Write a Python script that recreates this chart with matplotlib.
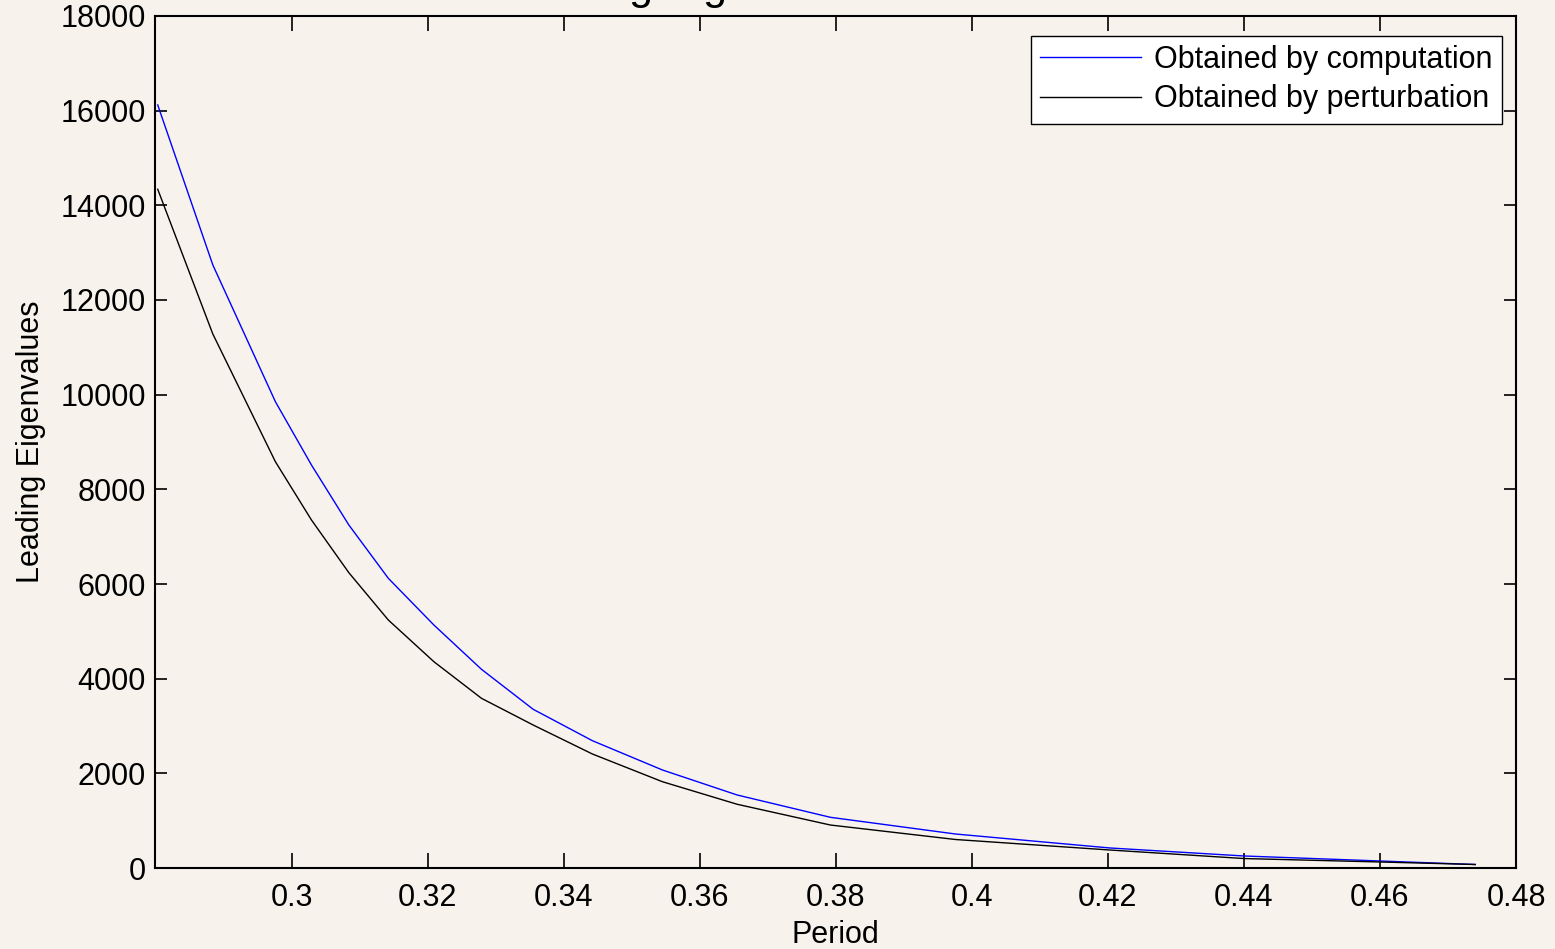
import matplotlib
matplotlib.use("Agg")
import matplotlib.pyplot as plt
import numpy as np

# Period values (shared by both curves)
period = [0.2803, 0.2884, 0.2976, 0.3029, 0.3084, 0.3142, 0.3209, 0.3279,
          0.3355, 0.3442, 0.3545, 0.3655, 0.3792, 0.3976, 0.4203, 0.4400,
          0.4600, 0.4740]

# Leading eigenvalues obtained by computation
computed = [16121, 12741, 9852, 8515, 7247, 6121, 5134, 4198, 3353, 2690,
            2071, 1542, 1071, 718, 423, 254, 148, 74]

# Leading eigenvalues obtained by perturbation
perturbed = [14340, 11282, 8584, 7353, 6239, 5240, 4359, 3585, 3021, 2409,
             1823, 1346, 908, 602, 380, 200, 127, 74]

xticks = [0.3, 0.32, 0.34, 0.36, 0.38, 0.4, 0.42, 0.44, 0.46, 0.48]
xticklabels = ["0.3", "0.32", "0.34", "0.36", "0.38", "0.4", "0.42", "0.44", "0.46", "0.48"]
yticks = list(range(0, 18001, 2000))

bg = "#F7F3EC"
plt.rcParams["font.family"] = ["Liberation Sans", "DejaVu Sans"]

fig = plt.figure(figsize=(15.55, 9.49), dpi=100, facecolor=bg)
ax = fig.add_axes([155 / 1555, 81 / 949, 1361 / 1555, 852 / 949])
ax.set_facecolor(bg)

ax.plot(period, computed, color="#0000FF", lw=1.0, label="Obtained by computation")
ax.plot(period, perturbed, color="black", lw=1.0, label="Obtained by perturbation")

ax.set_xlim(0.2799, 0.48)
ax.set_ylim(0, 18000)
ax.set_xticks(xticks)
ax.set_xticklabels(xticklabels)
ax.set_yticks(yticks)

# MATLAB-like axes: inward ticks on all four sides
ax.tick_params(axis="both", direction="in", top=True, right=True,
               labelsize=22, colors="black", width=1.2)
ax.tick_params(axis="x", length=10.8, pad=10.5)
ax.tick_params(axis="y", length=8.6, pad=6.5)
for s in ax.spines.values():
    s.set_linewidth(1.5)
    s.set_color("black")

ax.set_xlabel("Period", fontsize=22, labelpad=5.5)
ax.set_ylabel("Leading Eigenvalues", fontsize=22, labelpad=10.5)

# title sits mostly above the figure edge, only descenders show
ax.set_title("Leading Eigenvalues versus Period", fontsize=31,
             x=(500 - 155) / 1361, y=1.02, ha="left", pad=0)

leg = ax.legend(loc="upper right", bbox_to_anchor=(0.9897, 0.9765),
                borderaxespad=0, fontsize=22, fancybox=False, framealpha=1,
                edgecolor="black", handlelength=3.3, handletextpad=0.45,
                labelspacing=0.3, borderpad=0.3)
leg.get_frame().set_linewidth(1.0)
leg.get_frame().set_facecolor("white")

fig.savefig("out.png", dpi=100, facecolor=bg)
